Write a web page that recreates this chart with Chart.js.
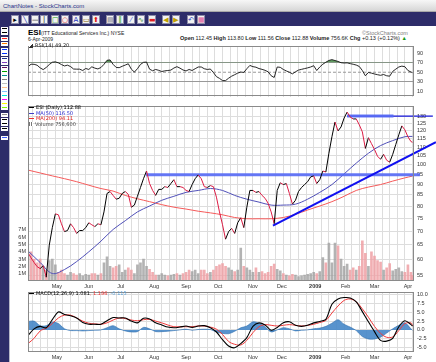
<!DOCTYPE html>
<html><head><meta charset="utf-8">
<script src="https://cdn.jsdelivr.net/npm/chart.js@4.4.1/dist/chart.umd.min.js"></script>
<style>
html,body{margin:0;padding:0;}
body{width:436px;height:362px;overflow:hidden;position:relative;background:#fff;font-family:"Liberation Sans",Arial,sans-serif;}
.abs{position:absolute;white-space:nowrap;line-height:1;}
canvas{position:absolute;left:0;}
.tb{position:absolute;top:15px;width:8px;height:9px;background:#f2f2f2;border:1px solid #8a8aa8;box-sizing:border-box;overflow:hidden;}
.sw{position:absolute;left:1px;width:7px;height:4px;background:#fff;box-sizing:border-box;border:1px solid #fff;}
.leg{position:absolute;left:29px;font:5px "DejaVu Sans",sans-serif;line-height:5px;white-space:nowrap;}
.ln{display:inline-block;width:5px;height:1.2px;vertical-align:middle;margin-right:2px;}
</style>
</head>
<body>
<div class="abs" style="left:0;top:0;width:436px;height:12px;background:linear-gradient(#f7f7f7,#d6d6d6);border-bottom:1px solid #a9a9a9;box-sizing:border-box;"></div>
<div class="abs" style="left:3px;top:3px;font:6px 'Liberation Sans',Arial;color:#26338a;">ChartNotes - StockCharts.com</div>
<div class="abs" style="left:0;top:12px;width:436px;height:14px;background:#2d2c69;"></div>
<div class="abs" style="left:0;top:26px;width:9px;height:336px;background:#2d2c69;"></div>
<div class="abs" style="left:9px;top:26px;width:1px;height:336px;background:#b8b8c8;"></div>

<div id="toolbar"></div>
<div id="side"></div>

<div class="abs" style="left:28px;top:27.5px;font:bold 8px 'Liberation Sans',Arial;color:#000;">ESI</div>
<div class="abs" style="left:41px;top:29.5px;font:5px 'Liberation Sans',Arial;color:#222;">(ITT Educational Services Inc.) NYSE</div>
<div class="abs" style="left:28px;top:35.5px;font:5px 'Liberation Sans',Arial;color:#222;">6-Apr-2009</div>
<div class="abs" style="left:362px;top:29.5px;font:5.5px 'Liberation Sans',Arial;color:#808080;">©StockCharts.com</div>
<div class="abs" style="left:180px;top:35px;font:5.5px 'Liberation Sans',Arial;color:#222;"><b>Open</b> 112.45 <b>High</b> 113.80 <b>Low</b> 111.56 <b>Close</b> 112.88 <b>Volume</b> 756.6K <b>Chg</b> +0.13 (+0.12%) <span style="color:#1a9a1a">▲</span></div>

<canvas id="cRsi" width="436" height="63" style="top:40px"></canvas>
<canvas id="cMain" width="436" height="190" style="top:100px"></canvas>
<canvas id="cMacd" width="436" height="76" style="top:286px"></canvas>

<div class="leg" style="top:43px;color:#222;"><span style="display:inline-block;width:4px;height:4px;background:linear-gradient(135deg,#fff 40%,#333 40%);margin-right:2px;vertical-align:middle"></span>RSI(14) 49.20</div>
<div class="leg" style="top:105px;color:#000;"><span class="ln" style="background:#000"></span>ESI (Daily) 112.88</div>
<div class="leg" style="top:110.5px;color:#2a2ad0;"><span class="ln" style="background:#4040c8"></span>MA(50) 116.50</div>
<div class="leg" style="top:116px;color:#e02020;"><span class="ln" style="background:#f03030"></span>MA(200) 94.11</div>
<div class="leg" style="top:121.5px;color:#444;"><span style="display:inline-block;width:4px;height:4px;background:linear-gradient(90deg,#777 25%,#fff 25%,#fff 50%,#777 50%,#777 75%,#fff 75%);margin-right:2px;vertical-align:middle"></span>Volume 756,600</div>
<div class="leg" style="top:291px;color:#000;"><span class="ln" style="background:#000"></span>MACD(12,26,9) 1.081<span style="color:#f03030">, 1.196</span><span style="color:#5aa0d8">, -0.115</span></div>

<script>
// ---------- data ----------
const monthLabels = ['May','Jun','Jul','Aug','Sep','Oct','Nov','Dec','2009','Feb','Mar','Apr'];
const monthStartIdx = [19,40,61,83,104,125,148,167,189,209,228,250]; // trading-day index of first day of month
const LAST = 253; // 6-Apr-2009

// close, every 2nd trading day, last value = final close
const closeStep2 = [
 62.3,60.6,59.1,57.8,57.2,58.1,54.6,64.9,71.3,76.8,
 76.4,72.8,69.8,70.2,72.8,71.3,69.1,70.2,70.2,71.3,
 73.2,72.4,71.7,72.8,72.4,77.6,85.7,86.6,84.8,83.1,
 83.5,85.7,86.6,85.3,79.6,80.5,84.4,88.5,92.8,96.7,
 90.4,87.1,84.8,87.6,87.6,88.9,88.5,90.4,92.3,88.9,
 88.9,88.5,87.1,86.6,89.9,92.8,94.7,92.8,88.9,88.5,
 89.4,88.9,84.0,77.6,72.4,67.0,69.8,71.0,69.1,73.2,
 75.2,71.3,79.6,87.1,87.1,86.2,86.6,84.8,83.5,81.3,
 77.6,72.8,87.1,90.8,89.9,90.4,85.7,80.9,82.6,86.6,
 88.5,89.9,91.3,93.7,94.2,90.4,92.3,96.7,96.2,106.4,
 116.3,125.9,120.0,122.6,128.6,132.8,129.3,128.0,128.0,124.0,
 119.4,109.2,115.7,112.1,108.6,104.7,103.0,105.8,102.5,101.4,
 105.8,111.5,117.5,123.3,120.7,116.3,113.3,
 112.88];
// volume in millions, every 2nd trading day
const volumeStep2M = [
 3.8,4.0,3.0,2.5,3.0,2.0,1.5,2.8,3.0,2.2,
 1.2,1.5,1.0,0.8,1.2,1.0,0.8,1.0,0.7,0.9,
 0.8,1.0,1.0,0.8,1.0,2.5,3.3,2.0,1.8,2.0,
 2.2,1.2,1.5,1.8,1.5,1.0,2.2,2.5,3.0,2.0,
 1.6,1.2,0.8,0.8,1.0,0.8,0.7,0.8,0.9,1.0,
 0.8,1.0,1.2,1.5,1.3,1.5,1.0,1.5,1.5,1.0,
 1.2,1.5,2.0,2.2,2.4,2.0,1.8,1.5,1.3,1.5,
 4.5,2.0,1.8,1.5,1.2,1.8,1.2,1.3,1.0,1.2,
 2.0,2.3,1.6,1.4,1.0,0.8,0.7,0.9,0.8,0.6,
 0.7,0.8,0.9,1.0,1.2,1.0,1.3,3.2,2.5,5.2,
 2.5,5.2,4.8,3.0,2.0,2.3,1.5,1.8,1.5,2.0,
 5.5,3.8,2.0,4.0,3.4,2.8,2.6,1.5,1.8,2.4,
 1.4,1.6,1.8,1.3,1.2,2.2,1.2,
 0.76];
// RSI(14), every 2nd trading day
const rsiStep2 = [
 61.5,66.7,66.5,64.6,59.1,55.5,60.0,66.0,70.8,71.6,
 69.5,66.0,63.1,64.7,61.8,56.7,56.4,56.4,53.6,57.8,
 55.8,61.3,58.5,56.9,59.8,66.4,74.8,75.6,66.4,60.0,
 59.5,62.4,64.9,67.6,56.4,50.4,57.3,66.2,70.6,71.2,
 56.4,53.1,55.8,54.0,51.5,52.9,53.6,54.5,58.7,61.6,
 58.5,54.7,52.7,55.8,53.6,57.3,60.9,60.9,57.3,55.8,
 56.7,49.5,40.9,37.3,32.7,32.7,37.6,41.8,44.9,48.2,
 50.4,49.6,57.3,64.2,61.6,60.5,57.6,56.0,54.0,50.9,
 42.7,39.1,60.9,60.2,55.8,52.7,50.0,46.7,50.9,54.5,
 56.0,57.6,59.1,60.9,63.6,53.6,60.9,66.7,70.8,74.5,
 76.2,74.3,72.5,69.8,69.2,69.5,67.9,66.6,64.9,62.0,
 53.6,42.7,49.5,48.2,46.4,44.9,43.6,45.3,42.7,41.8,
 51.8,56.4,60.9,62.7,61.5,53.6,50.5,
 49.2];
// moving averages, every 8th trading day
const ma50Step8 = [62.9,59.1,55.7,56.9,59.4,62.6,66.3,70.6,74.0,77.6,80.1,82.6,84.4,86.2,87.1,88.0,87.1,84.8,83.1,81.8,80.5,80.5,80.9,83.1,86.2,89.9,95.2,100.9,106.4,110.9,113.9,116.3,116.5];
const ma200Step8 = [97.2,95.7,94.2,92.8,91.3,89.6,88.0,86.8,84.8,83.3,82.0,80.7,79.6,78.8,77.9,77.2,76.4,75.3,74.8,74.8,74.8,75.3,76.6,78.4,80.1,82.0,84.4,87.1,88.7,89.9,91.6,93.2,94.11];
// MACD(12,26,9), every 4th trading day
const macdStep4 = [-1.6,0.3,1.0,0.6,2.9,5.1,4.4,4.0,3.4,2.1,1.6,1.6,1.6,2.6,3.5,3.4,3.4,2.5,2.0,3.3,3.1,2.0,1.4,0.8,0.6,0.8,1.1,0.7,1.1,1.2,0.6,-0.6,-2.8,-4.6,-5.1,-3.9,-2.2,1.0,2.0,1.4,-0.1,0.7,2.0,2.3,1.3,1.0,1.3,2.0,2.4,3.0,7.3,8.8,9.2,9.1,8.0,5.2,2.3,-0.5,-3.0,-3.2,-2.4,0.9,2.6,1.5,1.081];
const signalStep4 = [-3.9,-2.4,-0.3,0.5,1.8,3.4,4.2,4.2,3.4,2.5,1.9,1.7,1.6,2.0,2.8,3.4,3.2,2.8,2.6,2.9,3.0,2.5,2.0,1.4,0.9,0.9,0.9,0.9,1.1,1.1,0.8,0.2,-1.3,-3.3,-4.1,-4.3,-3.0,-0.8,0.9,1.5,1.3,1.1,1.3,1.5,1.3,1.1,1.3,1.6,2.1,2.7,4.8,6.8,8.4,8.8,8.0,6.0,3.6,1.0,-1.0,-2.1,-2.0,-0.2,1.8,2.0,1.196];
const histStep4 = [2.4,2.5,1.2,1.2,2.2,1.8,0.3,-0.2,-0.2,-0.3,-0.2,-0.1,0.0,0.6,1.2,0.3,-0.3,-0.6,-0.5,0.7,0.3,-0.5,-0.5,-0.4,-0.2,0.0,0.2,-0.1,0.1,0.2,0.1,-0.6,-1.0,-1.1,-0.4,0.6,1.1,2.3,1.9,0.9,-0.6,0.0,0.6,0.3,-0.3,-0.1,0.0,0.3,0.5,1.0,1.9,2.9,1.6,0.8,-0.2,-1.9,-2.6,-2.6,-2.1,-0.9,0.3,1.3,2.0,0.3,-0.115];
// drawn annotation lines (trading-day index, price)
const trendIdx = [161.2, 268.4], trendPrice = [72.1, 113.0];
const supportIdx = [77.6, 257.9], supportPrice = [94.8, 94.8];
const resistThickIdx = [210, 240.5], resistThinIdx = [210, 266.4], resistPrice = [130, 130];
// axis ticks
const priceTicks = [55,60,65,70,75,80,85,90,95,100,105,110,115,120,125,130];
const volTicksM = [1,2,3,4,5,6,7];
const rsiTicks = [10,30,50,70,90];
const macdTicks = [-5,-2.5,0,2.5,5,7.5,10];

// ---------- helpers ----------
const FONT = "'Liberation Sans', Arial, sans-serif";
const series = (vals, step) => vals.map((v, i) => ({x: Math.min(i * step, LAST), y: v}));
const pair = (xs, ys) => xs.map((x, i) => ({x, y: ys[i]}));
const WEEK = []; for (let i = 3; i <= LAST; i += 5) WEEK.push(i);

function xScale(showLabels, h) {
  return {
    type: 'linear', min: 0, max: 254, offset: false,
    afterBuildTicks: ax => { ax.ticks = WEEK.map(v => ({value: v})).concat(monthStartIdx.map(v => ({value: v}))); },
    afterFit: ax => { ax.height = h; },
    grid: { offset: false, drawTicks: false, color: c => (c.index < WEEK.length ? '#dddddd' : 'rgba(0,0,0,0)') },
    border: { display: false },
    ticks: { display: showLabels, autoSkip: false, maxRotation: 0, minRotation: 0, padding: 2, color: '#333',
      font: c => ({ family: FONT, size: 5.5, weight: (c.index - WEEK.length) === 8 ? 'bold' : 'normal' }),
      callback: (v, i) => (i < WEEK.length ? '' : monthLabels[i - WEEK.length]) }
  };
}
const frame = { id: 'frame', afterDraw(chart) {
  const {ctx, chartArea: a} = chart; ctx.save(); ctx.strokeStyle = '#8a8a8a'; ctx.lineWidth = 1;
  ctx.strokeRect(Math.round(a.left) + 0.5, Math.round(a.top) + 0.5, Math.round(a.right - a.left) - 1, Math.round(a.bottom - a.top) - 1);
  ctx.restore(); } };
const base = { responsive: false, animation: false, devicePixelRatio: 1, events: [],
  plugins: { legend: { display: false }, tooltip: { enabled: false } },
  elements: { point: { radius: 0 } } };
const rightAxisTicks = { color: '#333', padding: 3, font: { family: FONT, size: 5.5 } };

// ---------- toolbar + side palette ----------
(function () {
  const tb = document.getElementById('toolbar');
  const icons = [[11,'▸','#000'],[21,'╲','#1830c0'],[31,'—','#000'],[40,'│','#000'],[51,'□','#10a010'],[61,'○','#e01010'],[72,'A','#1830c0'],[82,'▭','#806000'],[92,'⬆','#e01010'],
                 [106,'▤','#808090'],[116,'║','#10a010'],[127,'⁄','#3050d0'],[137,'∿','#208020'],[148,'▬','#e02020'],
                 [162,'◀','#c0a000'],[172,'▶','#c0a000'],[187,'↶','#2040c0'],[197,'▦','#e060a0']];
  icons.forEach(([x, g, c]) => { const d = document.createElement('div'); d.className = 'tb'; d.style.left = x + 'px';
    d.innerHTML = '<span style="position:absolute;left:0;top:0;width:100%;text-align:center;font:7px DejaVu Sans;line-height:8px;color:' + c + '">' + g + '</span>'; tb.appendChild(d); });
  const side = document.getElementById('side');
  const sw = [[27,'#000'],[31,'#000'],[37,'#ff2020'],[42,'#ff7a00'],[48,'#0030ff'],[52,'#0030ff'],[57,'#203090'],[61,'#8040c0'],[66,'#601060'],[70,'#00a000'],[74,'#009090'],[78,'#808080'],[82,'#c0c0c0'],[86,'#ffc090'],[90,'#80c0ff'],[94,'#00e0e0'],[98,'#ff00ff'],[102,'#ffff00'],[106,'#80ff00'],
              [113,'#909090'],[118,'#000'],[122,'#000'],[127,'#000'],[136,'#4060ff']];
  sw.forEach(([y, c]) => { const d = document.createElement('div'); d.className = 'sw'; d.style.top = y + 'px';
    d.style.background = 'linear-gradient(#fff 25%,' + c + ' 25%,' + c + ' 75%,#fff 75%)'; side.appendChild(d); });
})();

// ---------- RSI panel ----------
new Chart(document.getElementById('cRsi'), {
  type: 'line',
  data: { datasets: [
    { data: series(rsiStep2, 2), borderColor: '#111', borderWidth: 0.9, tension: 0,
      fill: { target: { value: 70 }, above: 'rgba(70,140,70,0.85)', below: 'rgba(0,0,0,0)' }, order: 1 },
    { data: [{x: 0, y: 50}, {x: 254, y: 50}], borderColor: '#999', borderWidth: 1, borderDash: [3, 2], fill: false, order: 2 }
  ] },
  options: Object.assign({}, base, {
    layout: { padding: { left: 28, top: 3, bottom: 2, right: 0 } },
    scales: {
      x: xScale(false, 0),
      y: { position: 'right', min: -0.8, max: 103.9,
        afterBuildTicks: ax => { ax.ticks = rsiTicks.map(v => ({value: v})); },
        afterFit: ax => { ax.width = 22; },
        grid: { drawTicks: false, color: c => ([30, 70].includes(c.tick && c.tick.value) ? '#999' : 'rgba(0,0,0,0)') },
        border: { display: false }, ticks: Object.assign({}, rightAxisTicks, { callback: v => String(v) }) }
    }
  }),
  plugins: [frame]
});

// ---------- Price / volume panel ----------
const priceSeries = series(closeStep2, 2);
const volColors = closeStep2.map((v, i) => (i > 0 && v < closeStep2[i - 1]) ? 'rgba(238,160,165,0.85)' : 'rgba(160,160,160,0.8)');
new Chart(document.getElementById('cMain'), {
  type: 'bar',
  data: { datasets: [
    { type: 'bar', yAxisID: 'yv', data: series(volumeStep2M.map(v => v * 1e6), 2), backgroundColor: volColors, barThickness: 2, order: 10 },
    { type: 'line', yAxisID: 'y', data: series(ma200Step8, 8), borderColor: '#f55a5a', borderWidth: 1, tension: 0.35, order: 6 },
    { type: 'line', yAxisID: 'y', data: series(ma50Step8, 8), borderColor: '#5050b8', borderWidth: 1, tension: 0.35, order: 5 },
    { type: 'line', yAxisID: 'y', data: pair(supportIdx, supportPrice), borderColor: 'rgba(85,105,245,0.9)', borderWidth: 3, clip: false, order: 4 },
    { type: 'line', yAxisID: 'y', data: pair(resistThinIdx, resistPrice), borderColor: '#1515d8', borderWidth: 1.2, clip: false, order: 4 },
    { type: 'line', yAxisID: 'y', data: pair(resistThickIdx, resistPrice), borderColor: 'rgba(85,105,245,0.9)', borderWidth: 3, clip: false, order: 3 },
    { type: 'line', yAxisID: 'y', data: priceSeries, borderWidth: 1, tension: 0, order: 2,
      borderColor: '#000', segment: { borderColor: c => (c.p1.parsed.y < c.p0.parsed.y ? '#dc1c44' : '#000000') } },
    { type: 'line', yAxisID: 'y', data: pair(trendIdx, trendPrice), borderColor: '#1010f0', borderWidth: 2, clip: false, order: 1 }
  ] },
  options: Object.assign({}, base, {
    layout: { padding: { left: 0, top: 2, bottom: 0, right: 0 } },
    scales: {
      x: xScale(true, 9),
      y: { type: 'logarithmic', position: 'right', min: 53.5, max: 137,
        afterBuildTicks: ax => { ax.ticks = priceTicks.map(v => ({value: v})); },
        afterFit: ax => { ax.width = 22; },
        grid: { drawTicks: false, color: '#dddddd' }, border: { display: false },
        ticks: Object.assign({}, rightAxisTicks, { callback: v => String(v) }) },
      yv: { type: 'linear', position: 'left', min: 0, max: 23.9e6,
        afterBuildTicks: ax => { ax.ticks = volTicksM.map(v => ({value: v * 1e6})); },
        afterFit: ax => { ax.width = 28; },
        grid: { display: false, drawTicks: false }, border: { display: false },
        ticks: { color: '#333', padding: 2, font: { family: FONT, size: 5.5 }, callback: v => (v / 1e6) + 'M' } }
    }
  }),
  plugins: [frame]
});

// ---------- MACD panel ----------
new Chart(document.getElementById('cMacd'), {
  type: 'line',
  data: { datasets: [
    { data: series(histStep4, 4), borderColor: '#2f6fae', borderWidth: 0.6, backgroundColor: 'rgba(70,135,200,0.9)', fill: 'origin', tension: 0.3, order: 3 },
    { data: series(signalStep4, 4), borderColor: '#f03c3c', borderWidth: 1, tension: 0.35, order: 2 },
    { data: series(macdStep4, 4), borderColor: '#000', borderWidth: 1.1, tension: 0.3, order: 1 }
  ] },
  options: Object.assign({}, base, {
    layout: { padding: { left: 28, top: 3, bottom: 0, right: 0 } },
    scales: {
      x: xScale(true, 10),
      y: { position: 'right', min: -6.3, max: 10.7,
        afterBuildTicks: ax => { ax.ticks = macdTicks.map(v => ({value: v})); },
        afterFit: ax => { ax.width = 22; },
        grid: { drawTicks: false, color: '#dddddd' }, border: { display: false },
        ticks: Object.assign({}, rightAxisTicks, { callback: v => v.toFixed(1) }) }
    }
  }),
  plugins: [frame]
});
</script>
</body></html>
